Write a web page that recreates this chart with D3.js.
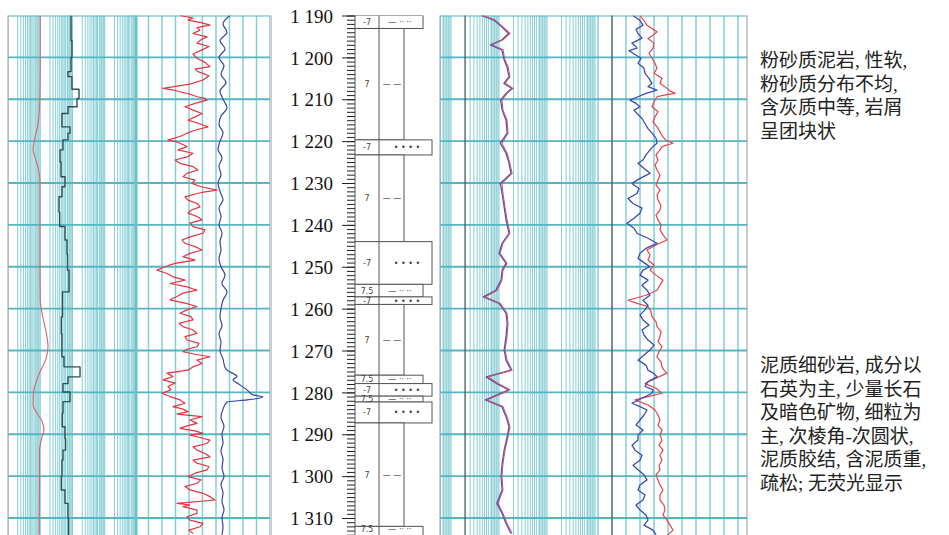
<!DOCTYPE html>
<meta charset="utf-8">
<style>
  body { margin: 0; background: #fff; }
  svg { display: block; }
  .vgrid { stroke: #86ced5; stroke-width: 1; }
  .hgrid { stroke: #55b6c1; stroke-width: 1.8; }
  .border { stroke: #9a9a9a; stroke-width: 1; }
  .curve { fill: none; stroke-linejoin: round; }
  .litho rect { fill: #fff; stroke: #555; stroke-width: 1; }
  .litho line { stroke: #555; stroke-width: 1; }
</style>
<body>
<script src="https://cdnjs.cloudflare.com/ajax/libs/d3/7.8.5/d3.min.js"></script>
<script>
// ---- data ----
// track 1: smooth red curve (log) and stepped black curve (log)
const red1Depth = [1190, 1200, 1208, 1212, 1216, 1220, 1222, 1224, 1227, 1230, 1240, 1250, 1258, 1262, 1266, 1269, 1272, 1275, 1277.5, 1280, 1283, 1285, 1287, 1289, 1291, 1294, 1300, 1314];
const red1Val = [1.0, 1.0, 0.98, 0.95, 0.85, 0.65, 0.6, 0.7, 0.9, 0.98, 0.98, 0.98, 1.0, 1.2, 1.55, 1.74, 1.5, 1.0, 0.75, 0.62, 0.6, 0.8, 1.15, 1.3, 1.1, 0.95, 0.95, 0.93];

const blk1Top = [1190, 1196, 1200, 1203.4, 1204.6, 1207.6, 1209.8, 1211.8, 1213.4, 1216.6, 1218.1, 1219.7, 1222.1, 1225, 1228.5, 1230.9, 1233.3, 1237, 1240.4, 1243.6, 1247, 1250.8, 1256, 1262, 1266, 1271.5, 1273.9, 1276.3, 1277.9, 1279.9, 1282.2, 1285, 1288.2, 1291, 1293.8, 1296.2, 1300, 1303.3, 1306.5, 1310, 1315];
const blk1Val = [9.0, 9.6, 9.0, 7.25, 9.6, 15.9, 13.8, 7.25, 4.72, 8.36, 7.25, 5.07, 4.1, 4.4, 5.85, 4.72, 3.81, 4.0, 5.85, 6.75, 7.0, 7.8, 4.9, 4.5, 4.7, 5.45, 17.1, 7.25, 5.07, 8.36, 5.07, 4.8, 5.85, 6.1, 5.07, 4.72, 4.5, 5.85, 7.25, 7.5, 7.5];

// track 2: red and blue (linear)
const red2Depth = [1190, 1190.6, 1191.1, 1191.7, 1192.3, 1192.9, 1193.5, 1194.3, 1195.1, 1195.8,
  1196.6, 1197.4, 1198.2, 1199.2, 1200.2, 1201.2, 1202.2, 1202.8, 1203.4, 1204.4,
  1205.4, 1206.4, 1207.4, 1207.8, 1208.2, 1208.8, 1209.4, 1209.8, 1210.2, 1211,
  1211.8, 1212.6, 1213.4, 1214.2, 1215, 1215.8, 1216.6, 1217.4, 1218.1, 1218.9,
  1219.7, 1220.1, 1220.5, 1221.3, 1222.1, 1222.9, 1223.7, 1224.5, 1225.3, 1226.1,
  1226.9, 1227.7, 1228.5, 1229.3, 1230.1, 1230.9, 1231.7, 1232.1, 1232.5, 1233.3,
  1234.1, 1234.9, 1235.7, 1236.5, 1237.2, 1238, 1238.8, 1239.6, 1240.4, 1241.2,
  1242, 1242.8, 1243.6, 1244.4, 1245.2, 1246, 1246.8, 1247.6, 1248.4, 1249.2,
  1250, 1250.8, 1251.6, 1252.4, 1253.2, 1254, 1254.8, 1255.6, 1256.3, 1257.1,
  1257.9, 1258.7, 1259.5, 1260.3, 1261.1, 1261.9, 1262.7, 1263.5, 1264.3, 1265.1,
  1265.9, 1266.7, 1267.5, 1268.3, 1269.1, 1269.7, 1270.3, 1270.9, 1271.5, 1272.3,
  1273.1, 1273.9, 1274.7, 1275.4, 1276.2, 1277, 1277.8, 1278.6, 1279.4, 1280.2,
  1281, 1281.8, 1282.6, 1283.4, 1284, 1284.6, 1285.2, 1285.8, 1286.6, 1287.4,
  1288, 1288.6, 1289.2, 1289.8, 1290.2, 1290.6, 1291.4, 1292.2, 1293, 1293.8,
  1294.6, 1295.4, 1296.2, 1296.9, 1297.7, 1298.5, 1299.3, 1300.1, 1300.9, 1301.7,
  1302.5, 1303.3, 1304.1, 1304.9, 1305.7, 1306.5, 1306.9, 1307.3, 1308.1, 1308.9,
  1309.7, 1310.5, 1311.3, 1312.1, 1312.9, 1313.7];
const red2Val = [45, 58, 53, 66, 75, 62, 65, 58, 72, 66,
  62, 74, 67, 58, 62, 70, 75, 60, 63, 74,
  68, 55, 28, 38, 45, 55, 62, 70, 72, 60,
  50, 58, 67, 60, 53, 64, 73, 60, 52, 45,
  33, 40, 45, 52, 43, 58, 53, 40, 45, 58,
  63, 52, 48, 60, 57, 66, 82, 70, 62, 50,
  53, 62, 65, 56, 53, 62, 67, 55, 58, 70,
  68, 56, 47, 50, 60, 67, 55, 48, 60, 40,
  30, 22, 32, 38, 50, 35, 52, 62, 48, 42,
  35, 50, 62, 52, 45, 56, 58, 44, 48, 58,
  62, 50, 52, 64, 62, 52, 48, 60, 75, 62,
  67, 58, 53, 32, 38, 28, 40, 33, 36, 27,
  35, 45, 50, 38, 48, 53, 42, 67, 55, 62,
  52, 45, 60, 68, 55, 62, 75, 72, 58, 62,
  70, 75, 58, 62, 74, 72, 60, 53, 66, 62,
  50, 55, 68, 75, 80, 42, 55, 48, 62, 62,
  52, 55, 68, 65, 54, 58];

const blue2Depth = [1190, 1192, 1194, 1196, 1198, 1200, 1202, 1204, 1206, 1208,
  1210, 1212, 1214, 1216, 1218, 1220, 1222, 1224, 1226, 1228,
  1230, 1232, 1234, 1236, 1238, 1240, 1242, 1244, 1246, 1248,
  1250, 1252, 1254, 1256, 1258, 1260, 1262, 1264, 1266, 1268,
  1270, 1272, 1274, 1274.7, 1276.2, 1277, 1277.9, 1279.4, 1280.6, 1281.1, 1281.8, 1282.3,
  1284, 1286, 1288, 1290, 1292, 1294, 1296, 1298, 1300, 1302, 1304, 1306, 1308, 1310, 1312, 1314];
const blue2Val = [95, 88, 92, 85, 90, 84, 89, 86, 91, 85,
  88, 92, 86, 84, 88, 85, 83, 87, 84, 86,
  83, 85, 88, 84, 86, 84, 87, 85, 86, 84,
  86, 90, 87, 92, 88, 86, 85, 87, 84, 86,
  85, 88, 90, 92, 102, 98, 103, 112, 118, 128, 112, 92,
  88, 86, 89, 87, 88, 86, 88, 87, 89, 86, 88, 87, 89, 87, 88, 87];

// track 3: red and blue (log)
const depth3 = [1190, 1191.1, 1192.7, 1194.3, 1195.8, 1197, 1198.2, 1200.6, 1202.2, 1204.6,
  1206.2, 1207.4, 1208.6, 1210.2, 1212.6, 1215, 1218.1, 1220.5, 1222.9, 1225.3,
  1227.7, 1230.1, 1232.5, 1235.7, 1238.8, 1242, 1244.4, 1246.8, 1249.2,
  1250.8, 1253.2, 1255.6, 1257.2, 1258.7, 1261.1, 1263.5, 1266.7, 1269.9, 1272.3,
  1274.7, 1276.3, 1277.9, 1279.4, 1281.8, 1283.4, 1285.8, 1288.2, 1290.6, 1293.8,
  1297, 1300.1, 1303.3, 1306.5, 1308.9, 1311.3, 1313.7];
const red3 = [4.64, 8.25, 12.1, 16.9, 12.1, 7.15, 12.1, 13.3, 15.4, 16.9,
  13.3, 19.6, 14.7, 11.5, 12.1, 14.7, 15.4, 11.5, 14.7, 16.9,
  18.7, 11.5, 12.1, 13.3, 14.7, 16.9, 12.1, 10.5, 14.7,
  12.1, 11.5, 9.09, 5.11, 10.5, 14.7, 15.4, 14.7, 13.3, 14.7,
  18.7, 5.9, 9.53, 16.9, 5.62, 12.1, 14.7, 16.9, 15.4, 13.3,
  12.1, 11.5, 12.1, 9.53, 12.1, 14.7, 18.7];
const blue3 = [4.3, 7.8, 11.4, 15.8, 11.6, 6.6, 11.4, 12.8, 14.6, 16.2,
  12.6, 18.4, 14.0, 10.8, 11.6, 14.0, 14.8, 10.6, 14.0, 16.2,
  17.8, 10.6, 11.6, 12.8, 14.0, 16.2, 11.6, 10.0, 14.0,
  11.6, 11.0, 8.6, 4.7, 9.9, 14.0, 14.8, 14.0, 12.8, 14.0,
  17.8, 5.4, 9.0, 16.0, 5.2, 11.4, 14.0, 16.2, 14.8, 12.8,
  11.6, 11.0, 11.6, 9.0, 11.6, 14.0, 17.8];

// track 4: blue and red (linear)
const blue4Depth = [1190, 1191.2, 1192.3, 1193.3, 1194.3, 1195.4, 1196.6, 1197.2, 1197.8, 1198.4,
  1199, 1200.2, 1201.4, 1202.6, 1203.8, 1205, 1206.2, 1207, 1207.8, 1208.6,
  1209.4, 1210.2, 1211, 1211.8, 1212.6, 1213.4, 1214.6, 1215.8, 1217, 1218.1,
  1219.3, 1220.5, 1221.3, 1222.1, 1223.3, 1224.5, 1225.3, 1226.1, 1226.9, 1227.7,
  1228.9, 1230.1, 1231.3, 1232.5, 1233.7, 1234.9, 1236, 1237.2, 1238.4, 1239.6,
  1240.8, 1242, 1243.2, 1244.4, 1245.6, 1246.8, 1248, 1249.2, 1250, 1250.8,
  1252, 1253.2, 1254.4, 1255.6, 1256.8, 1258, 1259.2, 1260.3, 1261.5, 1262.7,
  1263.9, 1265.1, 1266.3, 1267.5, 1268.7, 1269.9, 1271.1, 1272.3, 1273.5, 1274.7,
  1275.5, 1276.3, 1277.4, 1278.6, 1279.4, 1280.2, 1281.4, 1282.6, 1283.4, 1284.2,
  1285.4, 1286.6, 1287.8, 1289, 1290.2, 1291.4, 1292.6, 1293.8, 1295, 1296.2,
  1297.4, 1298.5, 1299.7, 1300.9, 1302.1, 1303.3, 1304.5, 1305.7, 1306.9, 1308.1,
  1309.3, 1310.5, 1311.7, 1312.9, 1314];
const blue4Val = [35, 42, 45, 38, 40, 44, 34, 37, 39, 31,
  35, 43, 40, 46, 47, 51, 54, 50, 59, 48,
  40, 32, 38, 42, 36, 39, 44, 47, 50, 54,
  58, 59, 55, 52, 48, 45, 40, 44, 48, 52,
  42, 34, 41, 39, 30, 35, 44, 42, 36, 29,
  36, 39, 50, 59, 48, 42, 40, 47, 52, 45,
  42, 50, 44, 49, 52, 45, 50, 47, 42, 45,
  51, 44, 46, 50, 56, 52, 46, 40, 48, 50,
  56, 59, 50, 47, 55, 54, 44, 34, 42, 49,
  46, 42, 38, 45, 40, 40, 34, 37, 44, 42,
  35, 40, 46, 49, 42, 40, 47, 45, 38, 42,
  48, 50, 46, 55, 58];
const red4Depth = [1190, 1191.2, 1192.3, 1193.1, 1193.9, 1194.7, 1195.5, 1196.6, 1197.8, 1199,
  1200.2, 1201.4, 1202.6, 1203.8, 1205, 1206.2, 1207.4, 1208, 1208.6, 1209,
  1209.4, 1210.6, 1211.8, 1213, 1214.2, 1215.4, 1216.6, 1217.8, 1219, 1219.8,
  1220.5, 1221.3, 1222.1, 1223.3, 1224.5, 1225.7, 1226.9, 1228.1, 1229.3, 1230.5,
  1231.7, 1232.9, 1234.1, 1235.3, 1236.5, 1237.7, 1238.8, 1240, 1241.2, 1242.4,
  1243.6, 1244.8, 1246, 1247.2, 1248.4, 1249.6, 1250.8, 1252, 1253.2, 1254.4,
  1255.6, 1256.8, 1258, 1258.8, 1259.5, 1260.7, 1261.9, 1263.1, 1264.3, 1265.5,
  1266.7, 1267.9, 1269.1, 1270.3, 1271.5, 1272.7, 1273.9, 1274.7, 1275.4, 1276.6,
  1277.9, 1279, 1280.2, 1281, 1281.8, 1283, 1284.2, 1285.4, 1286.6, 1287.8,
  1289, 1290.2, 1291.4, 1292.6, 1293.8, 1295, 1296.2, 1297.4, 1298.5, 1299.7,
  1300.9, 1302.1, 1303.3, 1304.5, 1305.7, 1306.9, 1308.1, 1309.3, 1310.5, 1311.7,
  1312.9, 1314];
const red4Val = [42, 46, 49, 54, 59, 55, 50, 56, 55, 51,
  54, 57, 59, 56, 64, 62, 69, 72, 77, 66,
  59, 56, 54, 60, 57, 55, 59, 62, 65, 68,
  75, 64, 62, 58, 60, 57, 59, 62, 60, 58,
  62, 59, 60, 63, 62, 58, 60, 63, 62, 65,
  69, 58, 49, 52, 50, 56, 52, 58, 65, 62,
  59, 48, 30, 40, 50, 53, 54, 58, 59, 63,
  62, 60, 64, 61, 59, 63, 64, 66, 69, 58,
  47, 58, 64, 50, 37, 50, 57, 60, 62, 60,
  64, 62, 64, 61, 65, 62, 64, 61, 62, 58,
  60, 62, 65, 62, 62, 66, 67, 65, 69, 72,
  75, 70];

// lithology column: top, bottom, rock type, code
const layerTop = [1190, 1193.1, 1219.7, 1223.3, 1244.0, 1254.2, 1257.2, 1259.0, 1275.9, 1277.9, 1280.9, 1282.3, 1287.3, 1312.0];
const layerBot = [1193.1, 1219.7, 1223.3, 1244.0, 1254.2, 1257.2, 1259.0, 1275.9, 1277.9, 1280.9, 1282.3, 1287.3, 1312.0, 1315];
const layerType = ["silt", "mud", "sand", "mud", "sand", "silt", "sand", "mud", "silt", "sand", "silt", "sand", "mud", "silt"];
const layerCode = ["-7", "7", "-7", "7", "-7", "7.5", "-7", "7", "7.5", "-7", "7.5", "-7", "7", "7.5"];

const depthTicks = d3.range(1190, 1311, 10);
const note1 = ["粉砂质泥岩, 性软,", "粉砂质分布不均,", "含灰质中等, 岩屑", "呈团块状"];
const note2 = ["泥质细砂岩, 成分以", "石英为主, 少量长石", "及暗色矿物, 细粒为", "主, 次棱角-次圆状,", "泥质胶结, 含泥质重,", "疏松; 无荧光显示"];

// ---- layout ----
const W = 949, H = 535;
const serif = "'Liberation Serif', 'Times New Roman', Times, 'DejaVu Serif', serif";
const svg = d3.select("body").append("svg").attr("width", W).attr("height", H);

const y = d3.scaleLinear().domain([1190, 1310]).range([15.5, 518]);
const yTop = y(1190), yBot = H;
const dBot = y.invert(yBot);

const tracks = {
  t1: {x0: 8, x1: 137},
  t2: {x0: 137, x1: 270},
  t3: {x0: 440, x1: 596},
  t4: {x0: 596, x1: 747}
};
const x1s = d3.scaleLog().domain([0.1, 1000]).range([8, 137]);
const x2s = d3.scaleLinear().domain([0, 135]).range([135, 270]);
const x3s = d3.scaleLog().domain([1, 1000]).range([451, 595]);
const x4s = d3.scaleLinear().domain([0, 140]).range([598, 738]);

const defs = svg.append("defs");
Object.entries(tracks).forEach(([k, t]) => {
  defs.append("clipPath").attr("id", "clip-" + k)
    .append("rect").attr("x", t.x0).attr("y", yTop).attr("width", t.x1 - t.x0).attr("height", yBot - yTop);
});

const logSteps = [1, 2, 2.5, 3, 3.5, 4, 4.5, 5, 5.5, 6, 7, 8, 9];
function logGrid(g, scale, t) {
  const xs = [];
  for (let e = -2; e <= 3; e++) {
    logSteps.forEach(k => {
      const px = scale(k * Math.pow(10, e));
      if (px >= t.x0 - 0.5 && px <= t.x1 + 0.5) xs.push(px);
    });
  }
  g.selectAll(null).data(xs).enter().append("line")
    .attr("class", "vgrid")
    .attr("x1", d => d).attr("x2", d => d)
    .attr("y1", yTop).attr("y2", yBot);
  // the dense end of each decade reads as a tinted band
  const bands = [];
  for (let e = -2; e <= 3; e++) {
    const a = scale(6.5 * Math.pow(10, e)), b = scale(10 * Math.pow(10, e));
    if (b > t.x0 && a < t.x1) bands.push([Math.max(a, t.x0), Math.min(b, t.x1)]);
  }
  g.selectAll(null).data(bands).enter().append("rect")
    .attr("x", d => d[0]).attr("width", d => d[1] - d[0])
    .attr("y", yTop).attr("height", yBot - yTop)
    .attr("fill", "#8dd0d7").attr("opacity", 0.55);
}
function linGrid(g, scale, n, t) {
  const d0 = scale.domain()[0], d1 = scale.domain()[1];
  const xs = d3.range(0, n + 1).map(i => scale(d0 + (d1 - d0) * i / n)).filter(px => px >= t.x0 - 0.5 && px <= t.x1 + 0.5);
  g.selectAll(null).data(xs).enter().append("line")
    .attr("class", "vgrid")
    .style("stroke-width", "1.5px")
    .attr("x1", d => d).attr("x2", d => d)
    .attr("y1", yTop).attr("y2", yBot);
}
function hGrid(g, t) {
  g.selectAll(null).data(depthTicks).enter().append("line")
    .attr("class", "hgrid")
    .attr("x1", t.x0).attr("x2", t.x1)
    .attr("y1", d => y(d)).attr("y2", d => y(d));
}

const gT1 = svg.append("g").attr("clip-path", "url(#clip-t1)");
logGrid(gT1, x1s, tracks.t1);
hGrid(gT1, tracks.t1);

const gT2 = svg.append("g").attr("clip-path", "url(#clip-t2)");
linGrid(gT2, x2s, 10, tracks.t2);
hGrid(gT2, tracks.t2);

const gT3 = svg.append("g").attr("clip-path", "url(#clip-t3)");
logGrid(gT3, x3s, tracks.t3);
hGrid(gT3, tracks.t3);

const gT4 = svg.append("g").attr("clip-path", "url(#clip-t4)");
linGrid(gT4, x4s, 10, tracks.t4);
hGrid(gT4, tracks.t4);

// darker reference lines
svg.append("line").attr("x1", 465).attr("x2", 465).attr("y1", yTop).attr("y2", yBot).attr("stroke", "#444").attr("stroke-width", 1);
svg.append("line").attr("x1", 612).attr("x2", 612).attr("y1", yTop).attr("y2", yBot).attr("stroke", "#444").attr("stroke-width", 1);
// track 2 left edge
svg.append("line").attr("x1", 136).attr("x2", 136).attr("y1", yTop).attr("y2", yBot).attr("stroke", "#6cc2cb").attr("stroke-width", 3);

// borders
[8, 271, 440, 747].forEach(bx => {
  svg.append("line").attr("class", "border").attr("x1", bx).attr("x2", bx).attr("y1", yTop).attr("y2", yBot);
});

// ---- curves ----
function drawCurve(g, depths, vals, xs, color, width, curve) {
  const pts = d3.zip(depths, vals);
  g.append("path").datum(pts)
    .attr("class", "curve")
    .attr("stroke", color).attr("stroke-width", width)
    .attr("d", d3.line().x(d => xs(d[1])).y(d => y(d[0])).curve(curve || d3.curveLinear));
}
drawCurve(gT1, red1Depth, red1Val, x1s, "#e0606e", 1.1, d3.curveMonotoneY);
drawCurve(gT1, blk1Top, blk1Val, x1s, "#2e4e56", 1.4, d3.curveStepBefore);
drawCurve(gT2, red2Depth, red2Val, x2s, "#e5333f", 1.2);
drawCurve(gT2, blue2Depth, blue2Val, x2s, "#3546a3", 1.2, d3.curveMonotoneY);
drawCurve(gT3, depth3, blue3, x3s, "#4a56b8", 1.3);
drawCurve(gT3, depth3, red3, x3s, "#c8506e", 1.1);
drawCurve(gT4, red4Depth, red4Val, x4s, "#e5434b", 1.2);
drawCurve(gT4, blue4Depth, blue4Val, x4s, "#3a4cb0", 1.3);

// ---- depth axis ----
const fmt = d => d3.format(",")(d).replace(",", " ");
const gDepth = svg.append("g").attr("transform", "translate(355,0)");
gDepth.append("g").call(d3.axisLeft(y).tickValues(d3.range(1190, 1315, 1)).tickSize(8).tickFormat(""))
  .call(g => g.select(".domain").remove());
gDepth.append("g")
  .call(d3.axisLeft(y).tickValues(depthTicks).tickSize(13).tickPadding(9).tickFormat(fmt))
  .attr("font-family", serif).attr("font-size", 19)
  .call(g => g.select(".domain").remove())
  .call(g => g.selectAll("text")
    .attr("dy", "0.35em")
    .style("font-family", serif)
    .style("font-size", "19px")
    .attr("fill", "#111"));
gDepth.selectAll("line").attr("stroke", "#222").attr("stroke-width", 1);

// ---- lithology ----
const typeRight = {mud: 404, silt: 423, sand: 432};
const typeSym = {mud: "— —", silt: "— ·· ··", sand: "•  •  •  •"};
const typeSymX = {mud: 392, silt: 400, sand: 407};
const layers = layerTop.map((t, i) => ({top: t, bot: layerBot[i], type: layerType[i], code: layerCode[i]}));
defs.append("clipPath").attr("id", "clip-litho").append("rect").attr("x", 340).attr("y", yTop).attr("width", 100).attr("height", yBot - yTop);
const gL = svg.append("g").attr("class", "litho").attr("clip-path", "url(#clip-litho)");
gL.selectAll("rect").data(layers).enter().append("rect")
  .attr("x", 355).attr("y", d => y(d.top))
  .attr("width", d => typeRight[d.type] - 355)
  .attr("height", d => y(d.bot) - y(d.top));
gL.selectAll("line.div").data(layers).enter().append("line")
  .attr("x1", 379).attr("x2", 379)
  .attr("y1", d => y(d.top)).attr("y2", d => y(d.bot));
const midY = d => y((d.top + Math.min(d.bot, dBot - 0.6)) / 2) + 3;
gL.selectAll("text.code").data(layers).enter().append("text")
  .attr("x", 367).attr("y", midY)
  .style("font-family", "'DejaVu Sans', sans-serif").style("font-size", "8px")
  .attr("fill", "#444").attr("text-anchor", "middle")
  .text(d => d.code);
gL.selectAll("text.sym").data(layers).enter().append("text")
  .attr("x", d => typeSymX[d.type]).attr("y", midY)
  .style("font-family", "'DejaVu Sans', sans-serif").style("font-size", "8px")
  .attr("fill", "#444").attr("text-anchor", "middle")
  .text(d => typeSym[d.type]);

// ---- notes ----
function note(lines, cy) {
  svg.append("g").selectAll("text").data(lines).enter().append("text")
    .attr("x", 760).attr("y", (d, i) => cy + i * 23.6 + 7)
    .style("font-family", "'Liberation Serif', 'Noto Sans CJK SC', serif")
    .style("font-size", "19px")
    .attr("fill", "#222")
    .text(d => d);
}
note(note1, 60);
note(note2, 365);
</script>
</body>
</html>
